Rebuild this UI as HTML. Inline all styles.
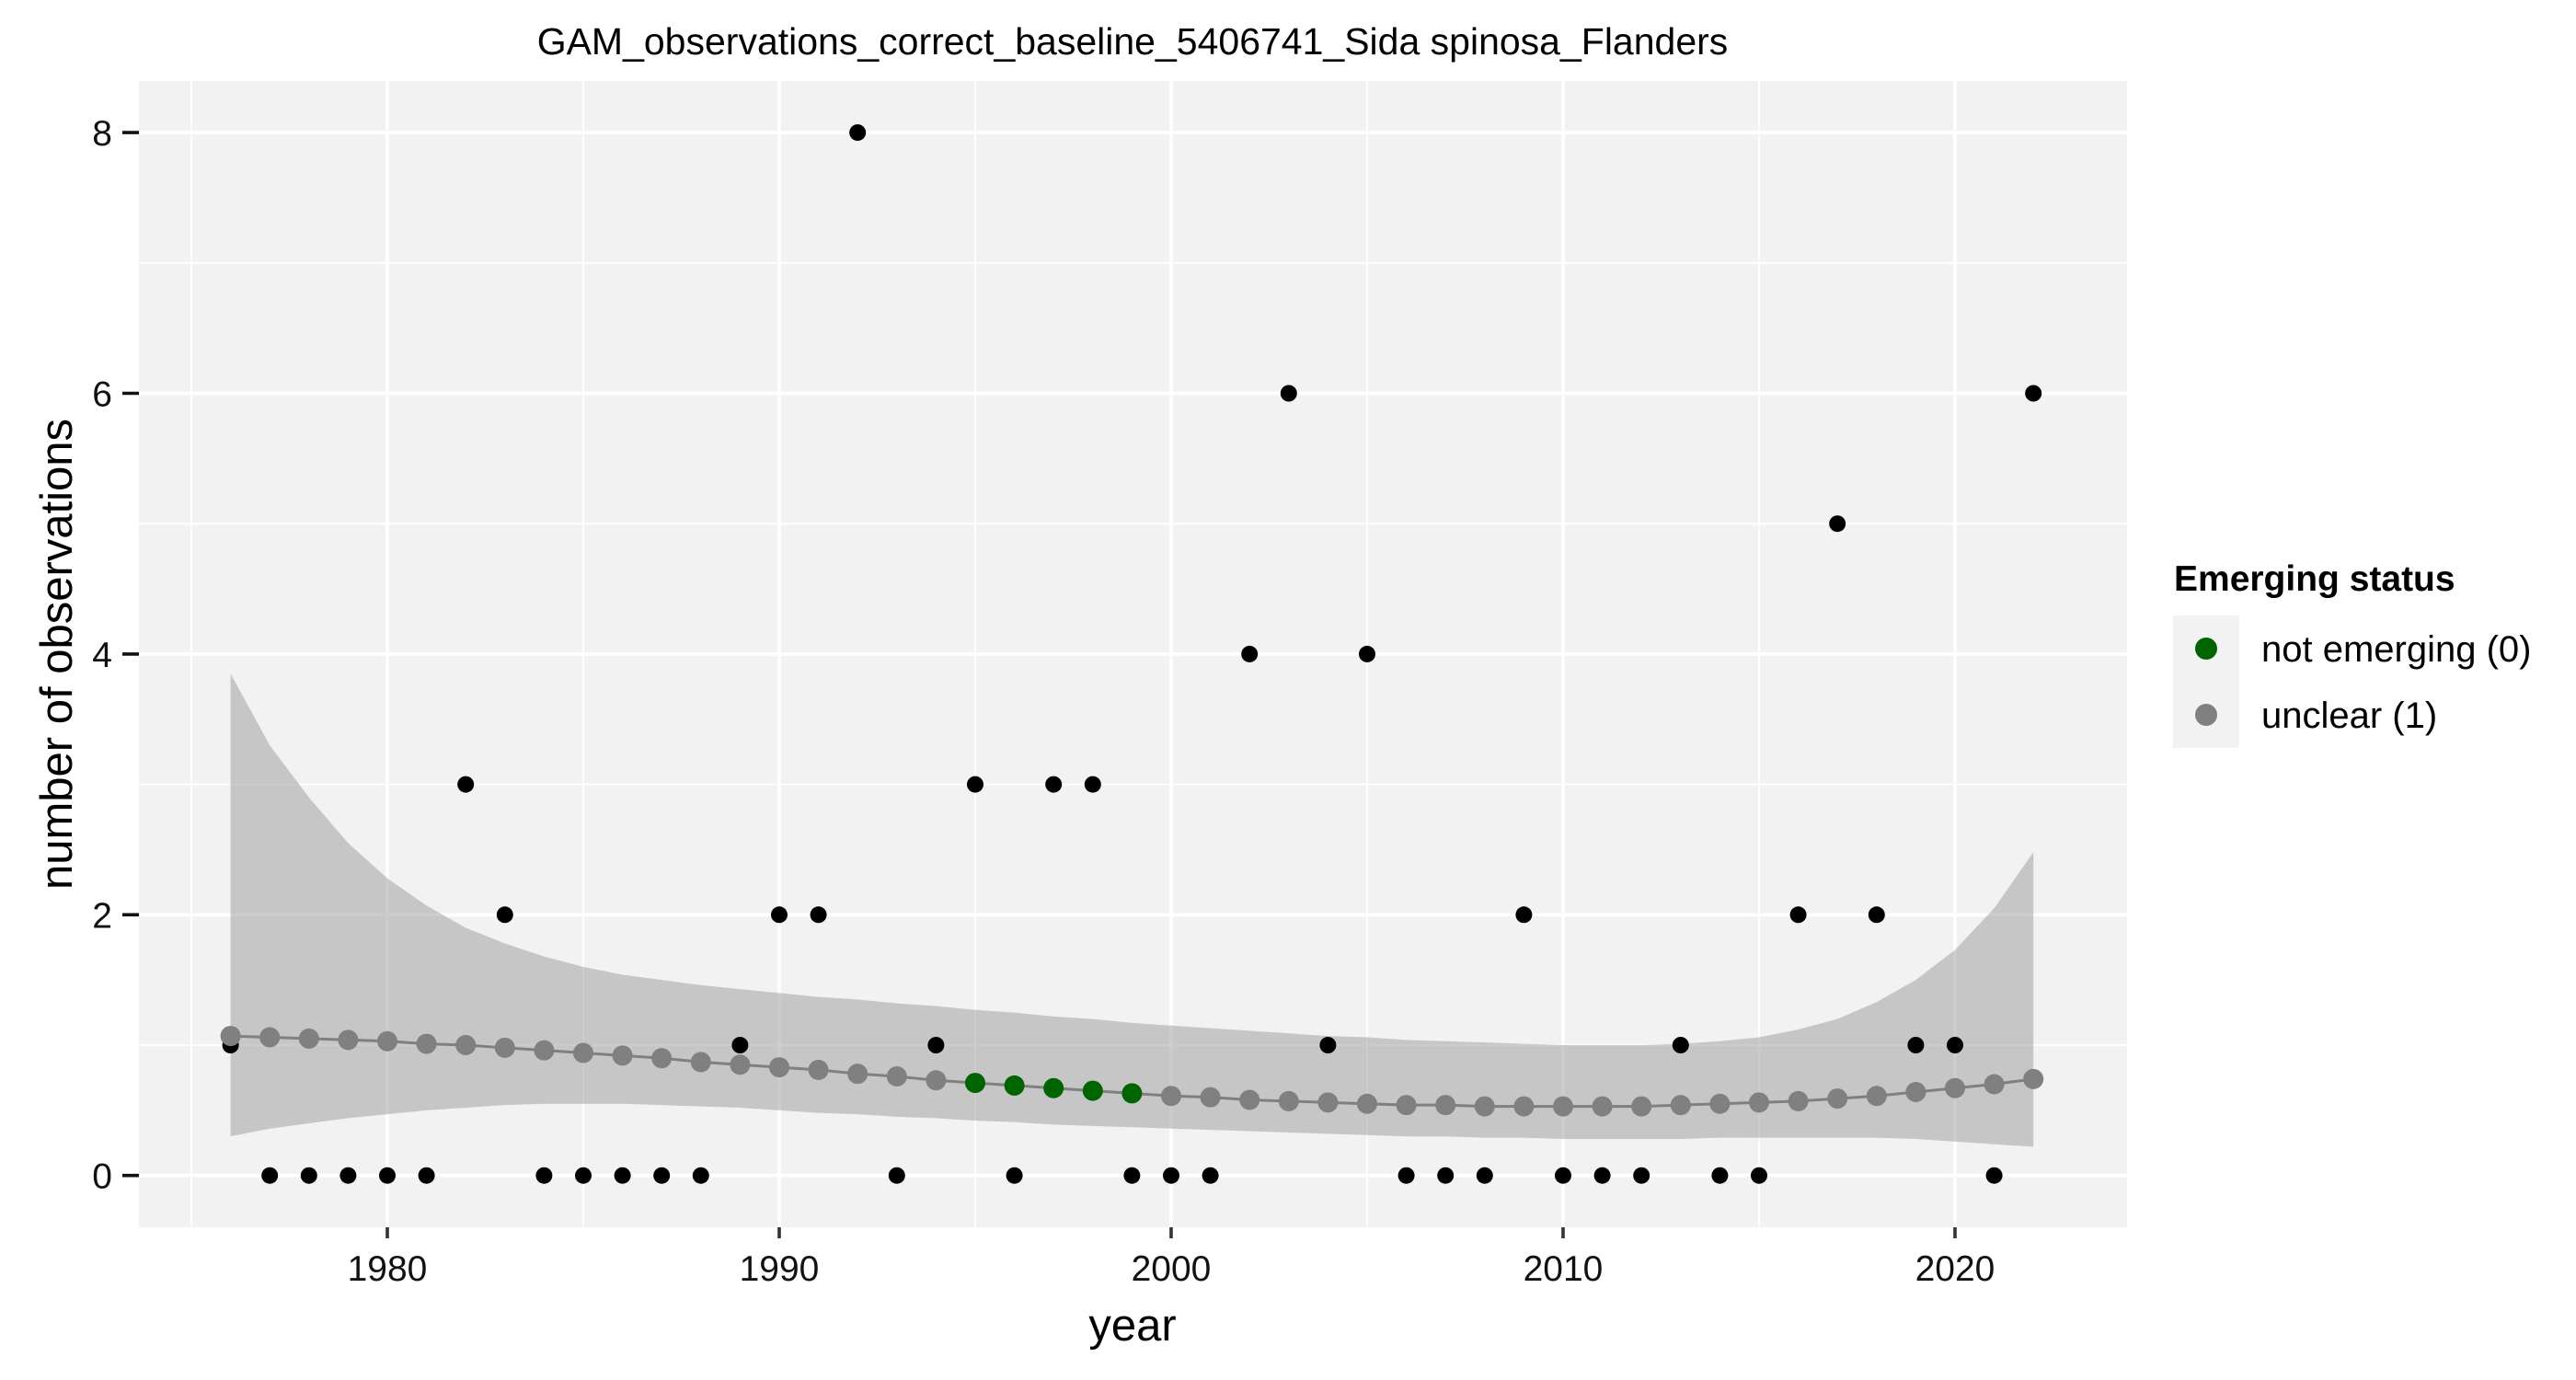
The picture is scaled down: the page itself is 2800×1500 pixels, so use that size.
<!DOCTYPE html>
<html><head><meta charset="utf-8"><style>
html,body{margin:0;padding:0;background:#fff;}
svg{display:block;font-family:"Liberation Sans",Arial,sans-serif;}
</style></head><body>
<svg id="chart" width="2800" height="1500" viewBox="0 0 2800 1500" xmlns="http://www.w3.org/2000/svg">
<text x="1231" y="59" font-size="41" text-anchor="middle">GAM_observations_correct_baseline_5406741_Sida spinosa_Flanders</text>
<rect x="151" y="88" width="2161" height="1246" fill="#f2f2f2"/>
<g id="grid"></g>
<g id="ribbon"></g>
<g id="fitline"></g>
<g id="obs"></g>
<g id="fitpts"></g>
<g id="axes"></g>
<text x="1231" y="1457" font-size="49" text-anchor="middle">year</text>
<text transform="translate(78,711) rotate(-90)" font-size="49" text-anchor="middle">number of observations</text>
<g>
<text x="2363" y="642" font-size="39" font-weight="bold">Emerging status</text>
<rect x="2362" y="669" width="72" height="144" fill="#f2f2f2"/>
<circle cx="2398" cy="705" r="12" fill="#006400"/>
<text x="2458" y="719" font-size="40">not emerging (0)</text>
<circle cx="2398" cy="777" r="12" fill="#808080"/>
<text x="2458" y="791" font-size="40">unclear (1)</text>
</g>
</svg>
<script>
const years=[1976,1977,1978,1979,1980,1981,1982,1983,1984,1985,1986,1987,1988,1989,1990,1991,1992,1993,1994,1995,1996,1997,1998,1999,2000,2001,2002,2003,2004,2005,2006,2007,2008,2009,2010,2011,2012,2013,2014,2015,2016,2017,2018,2019,2020,2021,2022];
const observations=[1,0,0,0,0,0,3,2,0,0,0,0,0,1,2,2,8,0,1,3,0,3,3,0,0,0,4,6,1,4,0,0,0,2,0,0,0,1,0,0,2,5,2,1,1,0,6];
const fitValues=[1.07,1.06,1.05,1.04,1.03,1.01,1.0,0.98,0.96,0.94,0.92,0.9,0.87,0.85,0.83,0.81,0.78,0.76,0.73,0.71,0.69,0.67,0.65,0.63,0.61,0.6,0.58,0.57,0.56,0.55,0.54,0.54,0.53,0.53,0.53,0.53,0.53,0.54,0.55,0.56,0.57,0.59,0.61,0.64,0.67,0.7,0.74];
const upperCI=[3.85,3.3,2.9,2.55,2.28,2.07,1.9,1.78,1.68,1.6,1.54,1.5,1.46,1.43,1.4,1.37,1.35,1.32,1.3,1.27,1.25,1.22,1.2,1.17,1.15,1.13,1.11,1.09,1.07,1.06,1.04,1.03,1.02,1.01,1.0,1.0,1.0,1.01,1.03,1.06,1.12,1.2,1.33,1.5,1.73,2.05,2.48];
const lowerCI=[0.3,0.36,0.4,0.44,0.47,0.5,0.52,0.54,0.55,0.55,0.55,0.54,0.53,0.52,0.5,0.48,0.47,0.45,0.44,0.42,0.41,0.39,0.38,0.37,0.36,0.35,0.34,0.33,0.32,0.31,0.3,0.3,0.29,0.29,0.28,0.28,0.28,0.28,0.29,0.29,0.29,0.29,0.29,0.28,0.26,0.24,0.22];
const status=[1,1,1,1,1,1,1,1,1,1,1,1,1,1,1,1,1,1,1,0,0,0,0,0,1,1,1,1,1,1,1,1,1,1,1,1,1,1,1,1,1,1,1,1,1,1,1];
const xTicks=[1980,1990,2000,2010,2020];
const xMinor=[1975,1985,1995,2005,2015];
const yTicks=[0,2,4,6,8];
const yMinor=[1,3,5,7];

const NS="http://www.w3.org/2000/svg";
const X=v=>421+(v-1980)*42.6;
const Y=v=>1277.7-v*141.7;
function mk(parent,tag,attrs){const e=document.createElementNS(NS,tag);for(const k in attrs)e.setAttribute(k,attrs[k]);document.getElementById(parent).appendChild(e);return e;}

xMinor.forEach(v=>{const l=mk('grid','line',{x1:X(v),x2:X(v),y1:88,y2:1334,stroke:'#fff','stroke-width':1.8});

});
yMinor.forEach(v=>{const l=mk('grid','line',{x1:151,x2:2312,y1:Y(v),y2:Y(v),stroke:'#fff','stroke-width':1.8});

});
xTicks.forEach(v=>{const l=mk('grid','line',{x1:X(v),x2:X(v),y1:88,y2:1334,stroke:'#fff','stroke-width':3.6});


const t=mk('axes','line',{x1:X(v),x2:X(v),y1:1334,y2:1346,stroke:'#333','stroke-width':3.6});


const tx=mk('axes','text',{x:X(v),y:1392,'font-size':39,'text-anchor':'middle',fill:'#111'});tx.textContent=v;

});
yTicks.forEach(v=>{const l=mk('grid','line',{x1:151,x2:2312,y1:Y(v),y2:Y(v),stroke:'#fff','stroke-width':3.6});


const t=mk('axes','line',{x1:133,x2:151,y1:Y(v),y2:Y(v),stroke:'#111','stroke-width':3.6});


const tx=mk('axes','text',{x:122,y:Y(v)+14,'font-size':39,'text-anchor':'end',fill:'#111'});tx.textContent=v;

});

let d='';years.forEach((y,i)=>{d+=(i?'L':'M')+X(y)+','+Y(upperCI[i]);});
for(let i=years.length-1;i>=0;i--)d+='L'+X(years[i])+','+Y(lowerCI[i]);d+='Z';
const rib=mk('ribbon','path',{d:d,fill:'#999','fill-opacity':0.5});



const pts=years.map((y,i)=>X(y)+','+Y(fitValues[i])).join(' ');
const fl=mk('fitline','polyline',{points:pts,fill:'none',stroke:'#808080','stroke-width':3});



years.forEach((y,i)=>{const c=mk('obs','circle',{cx:X(y),cy:Y(observations[i]),r:9,fill:'#000'});

});
years.forEach((y,i)=>{const c=mk('fitpts','circle',{cx:X(y),cy:Y(fitValues[i]),r:11,fill:status[i]===0?'#006400':'#808080'});

});
</script>
</body></html>
